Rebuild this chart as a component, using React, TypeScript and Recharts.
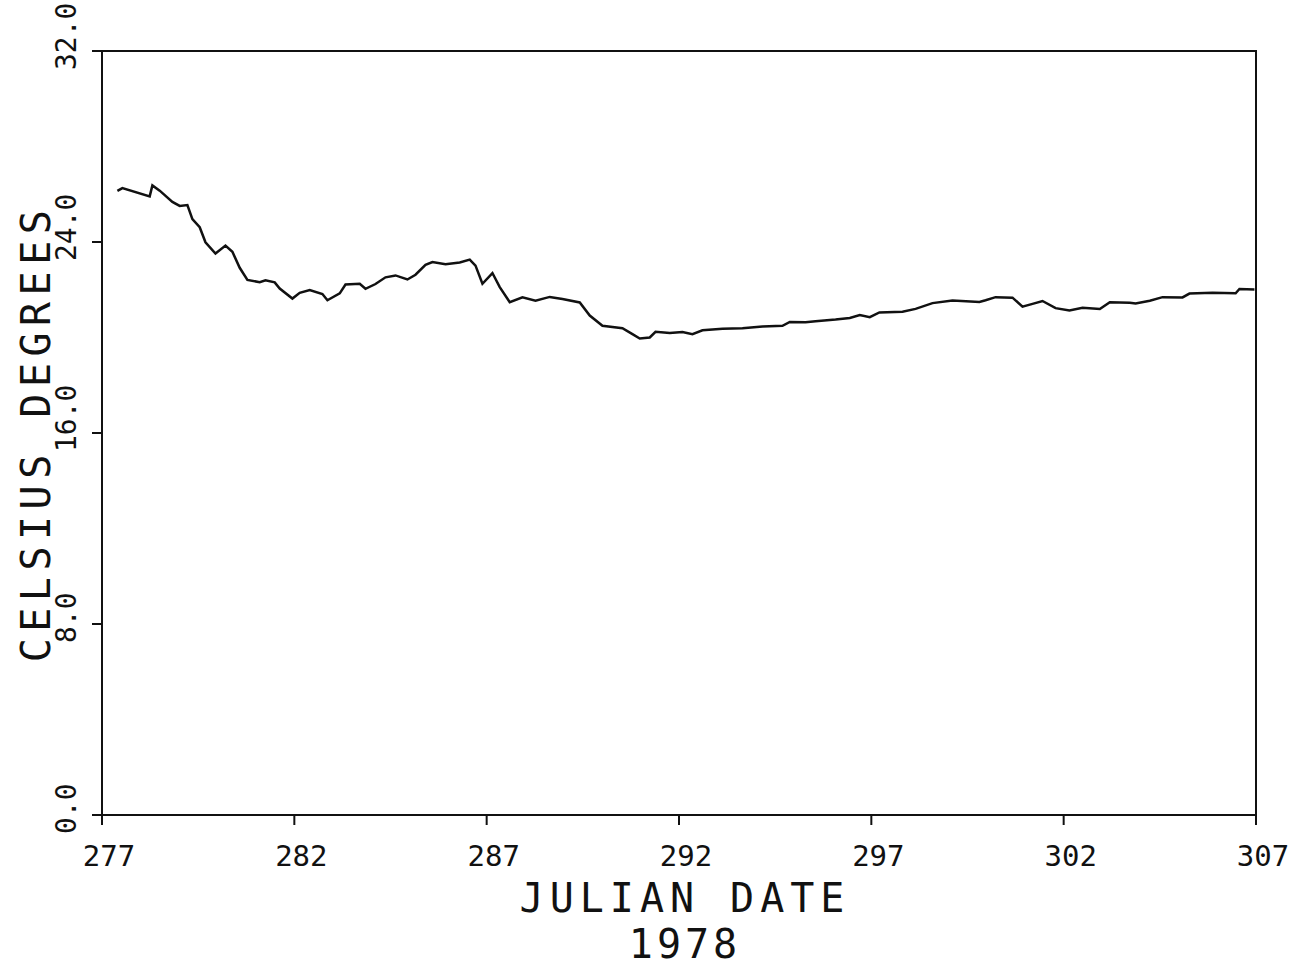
import React from 'react';
import { LineChart, Line, XAxis, YAxis, ReferenceArea } from 'recharts';

// julian day (1978) and water temperature
const days = [
  277.40, 277.53, 278.24, 278.31, 278.50, 278.83, 279.02, 279.22, 279.35, 279.54,
  279.69, 279.95, 280.21, 280.39, 280.58, 280.78, 281.10, 281.25, 281.49, 281.62,
  281.95, 282.14, 282.40, 282.73, 282.86, 283.18, 283.33, 283.70, 283.85, 284.11,
  284.37, 284.63, 284.94, 285.15, 285.41, 285.59, 285.93, 286.30, 286.56, 286.71,
  286.89, 287.15, 287.34, 287.60, 287.93, 288.27, 288.64, 288.97, 289.42, 289.68,
  290.01, 290.53, 290.79, 290.98, 291.24, 291.39, 291.76, 292.09, 292.35, 292.61,
  293.13, 293.65, 294.17, 294.69, 294.88, 295.29, 295.55, 296.07, 296.44, 296.70,
  296.96, 297.21, 297.81, 298.15, 298.59, 299.11, 299.81, 299.97, 300.23, 300.67,
  300.93, 301.19, 301.45, 301.79, 302.15, 302.49, 302.94, 303.20, 303.72, 303.87,
  304.24, 304.57, 305.09, 305.27, 305.87, 306.47, 306.57, 306.96,
];
const temps = [
  26.14, 26.26, 25.91, 26.37, 26.15, 25.68, 25.51, 25.55, 24.96, 24.62,
  23.99, 23.52, 23.85, 23.59, 22.92, 22.41, 22.32, 22.40, 22.31, 22.05,
  21.63, 21.87, 21.99, 21.82, 21.56, 21.85, 22.22, 22.25, 22.04, 22.24,
  22.52, 22.60, 22.43, 22.63, 23.04, 23.16, 23.07, 23.14, 23.26, 23.01,
  22.25, 22.70, 22.11, 21.48, 21.68, 21.54, 21.70, 21.61, 21.47, 20.92,
  20.49, 20.39, 20.14, 19.96, 20.00, 20.24, 20.19, 20.23, 20.14, 20.30,
  20.37, 20.39, 20.46, 20.49, 20.65, 20.64, 20.68, 20.75, 20.82, 20.94,
  20.85, 21.05, 21.08, 21.20, 21.44, 21.55, 21.49, 21.56, 21.69, 21.67,
  21.29, 21.41, 21.53, 21.23, 21.13, 21.25, 21.19, 21.48, 21.46, 21.42,
  21.54, 21.69, 21.68, 21.84, 21.87, 21.85, 22.03, 22.01,
];
const xTicks = [277, 282, 287, 292, 297, 302, 307];
const yTicks = [0, 8, 16, 24, 32];

const data = days.map((d, i) => ({ day: d, temp: temps[i] }));

const FONT = 'DejaVu Sans Mono';
const INK = '#111';

const XTick = ({ x, y, payload }: any) => (
  <text x={x + 7} y={y + 39} textAnchor="middle" fontFamily={FONT} fontSize={29} fill={INK}>
    {payload.value}
  </text>
);

const YTick = ({ x, y, payload }: any) => {
  const tx = x - 14;
  const ty = y + 19;
  return (
    <text x={tx} y={ty} transform={`rotate(-90 ${tx} ${ty})`} textAnchor="start"
      fontFamily={FONT} fontSize={28} fill={INK}>
      {Number(payload.value).toFixed(1)}
    </text>
  );
};

const xTitle = (props: any) => {
  const vb = props.viewBox;
  const cx = vb.x + vb.width / 2 + 6;
  return (
    <g>
      <text x={cx} y={vb.y + 97} textAnchor="middle" fontFamily={FONT} fontSize={40}
        letterSpacing={6} fill={INK}>JULIAN DATE</text>
      <text x={cx} y={vb.y + 143} textAnchor="middle" fontFamily={FONT} fontSize={40}
        letterSpacing={4} fill={INK}>1978</text>
    </g>
  );
};

const yTitle = (props: any) => {
  const vb = props.viewBox;
  const tx = vb.x + 8;
  const ty = vb.y + vb.height / 2;
  return (
    <text x={tx} y={ty} transform={`rotate(-90 ${tx} ${ty})`} textAnchor="middle"
      fontFamily={FONT} fontSize={40} letterSpacing={6.5} fill={INK}>CELSIUS DEGREES</text>
  );
};

export default function App() {
  return (
    <div style={{ position: 'absolute', left: 0, top: 0, background: '#fff' }}>
      <LineChart width={1305} height={969} data={data}
        margin={{ top: 51, right: 49, left: 42, bottom: 94 }}>
        <XAxis dataKey="day" type="number" domain={[277, 307]} ticks={xTicks}
          allowDataOverflow height={60} tickSize={10} tick={<XTick />}
          axisLine={{ stroke: INK, strokeWidth: 2 }} tickLine={{ stroke: INK, strokeWidth: 2 }}
          label={xTitle} />
        <YAxis type="number" domain={[0, 32]} ticks={yTicks} width={60} tickSize={10}
          tick={<YTick />} axisLine={{ stroke: INK, strokeWidth: 2 }}
          tickLine={{ stroke: INK, strokeWidth: 2 }} label={yTitle} />
        <ReferenceArea x1={277} x2={307} y1={0} y2={32} fill="none" stroke={INK} strokeWidth={2} />
        <Line type="linear" dataKey="temp" stroke={INK} strokeWidth={2.5} dot={false}
          isAnimationActive={false} />
      </LineChart>
    </div>
  );
}
